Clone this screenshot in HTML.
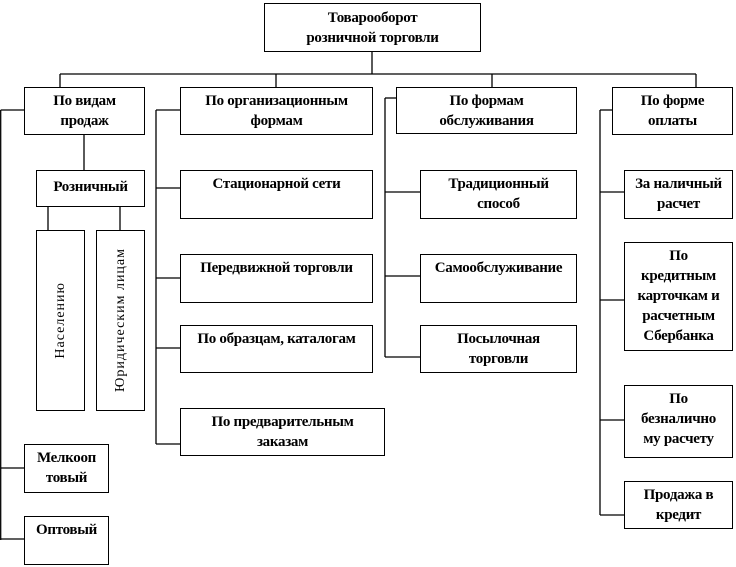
<!DOCTYPE html>
<html><head><meta charset="utf-8"><style>
body{margin:0;width:736px;height:567px;background:#fff;position:relative;overflow:hidden;font-family:"Liberation Serif","DejaVu Serif",serif;font-weight:bold;font-size:15px;color:#000}
.b{position:absolute;border:1px solid #000;box-sizing:border-box;text-align:center;line-height:20px;padding-top:3px;background:#fff;letter-spacing:-0.3px;white-space:nowrap}
.v{position:absolute;border:1px solid #000;box-sizing:border-box;background:#fff;display:flex;align-items:center;justify-content:center}
.v span{writing-mode:vertical-rl;transform:rotate(180deg);font-weight:normal;letter-spacing:1px;font-size:14px;white-space:nowrap}
svg{position:absolute;left:0;top:0}
</style></head><body>
<svg width="736" height="567" stroke="#000" stroke-width="1.3" fill="none">
<line x1="372" y1="51" x2="372" y2="74"/>
<line x1="60" y1="74" x2="696" y2="74"/>
<line x1="60" y1="74" x2="60" y2="87"/>
<line x1="276" y1="74" x2="276" y2="87"/>
<line x1="492" y1="74" x2="492" y2="87"/>
<line x1="696" y1="74" x2="696" y2="87"/>
<line x1="0.7" y1="110" x2="24" y2="110"/>
<line x1="0.7" y1="110" x2="0.7" y2="540"/>
<line x1="0.7" y1="468" x2="24" y2="468"/>
<line x1="0.7" y1="539" x2="24" y2="539"/>
<line x1="84" y1="134" x2="84" y2="170"/>
<line x1="48" y1="206" x2="48" y2="230"/>
<line x1="120" y1="206" x2="120" y2="230"/>
<line x1="156" y1="110" x2="180" y2="110"/>
<line x1="156" y1="110" x2="156" y2="444"/>
<line x1="156" y1="188" x2="180" y2="188"/>
<line x1="156" y1="278" x2="180" y2="278"/>
<line x1="156" y1="348" x2="180" y2="348"/>
<line x1="156" y1="444" x2="180" y2="444"/>
<line x1="385" y1="98" x2="396" y2="98"/>
<line x1="385" y1="98" x2="385" y2="357"/>
<line x1="385" y1="192" x2="420" y2="192"/>
<line x1="385" y1="276" x2="420" y2="276"/>
<line x1="385" y1="357" x2="420" y2="357"/>
<line x1="600" y1="110" x2="612" y2="110"/>
<line x1="600" y1="110" x2="600" y2="515"/>
<line x1="600" y1="192" x2="624" y2="192"/>
<line x1="600" y1="300" x2="624" y2="300"/>
<line x1="600" y1="420" x2="624" y2="420"/>
<line x1="600" y1="515" x2="624" y2="515"/>
</svg>
<div class="b" style="left:264px;top:3px;width:217px;height:49px;padding-top:4px">Товарооборот<br>розничной торговли</div>
<div class="b" style="left:24px;top:87px;width:121px;height:48px">По видам<br>продаж</div>
<div class="b" style="left:180px;top:87px;width:193px;height:48px">По организационным<br>формам</div>
<div class="b" style="left:396px;top:87px;width:181px;height:47px">По формам<br>обслуживания</div>
<div class="b" style="left:612px;top:87px;width:121px;height:48px">По форме<br>оплаты</div>
<div class="b" style="left:36px;top:170px;width:109px;height:37px;padding-top:6px">Розничный</div>
<div class="v" style="left:36px;top:230px;width:49px;height:181px"><span>Населению</span></div>
<div class="v" style="left:96px;top:230px;width:49px;height:181px"><span>Юридическим лицам</span></div>
<div class="b" style="left:24px;top:444px;width:85px;height:49px">Мелкооп<br>товый</div>
<div class="b" style="left:24px;top:516px;width:85px;height:49px">Оптовый</div>
<div class="b" style="left:180px;top:170px;width:193px;height:49px">Стационарной сети</div>
<div class="b" style="left:180px;top:254px;width:193px;height:49px">Передвижной торговли</div>
<div class="b" style="left:180px;top:325px;width:193px;height:48px">По образцам, каталогам</div>
<div class="b" style="left:180px;top:408px;width:205px;height:48px">По предварительным<br>заказам</div>
<div class="b" style="left:420px;top:170px;width:157px;height:49px">Традиционный<br>способ</div>
<div class="b" style="left:420px;top:254px;width:157px;height:49px">Самообслуживание</div>
<div class="b" style="left:420px;top:325px;width:157px;height:48px">Посылочная<br>торговли</div>
<div class="b" style="left:624px;top:170px;width:109px;height:49px">За наличный<br>расчет</div>
<div class="b" style="left:624px;top:242px;width:109px;height:109px">По<br>кредитным<br>карточкам и<br>расчетным<br>Сбербанка</div>
<div class="b" style="left:624px;top:385px;width:109px;height:73px">По<br>безналично<br>му расчету</div>
<div class="b" style="left:624px;top:481px;width:109px;height:48px">Продажа в<br>кредит</div>
</body></html>
